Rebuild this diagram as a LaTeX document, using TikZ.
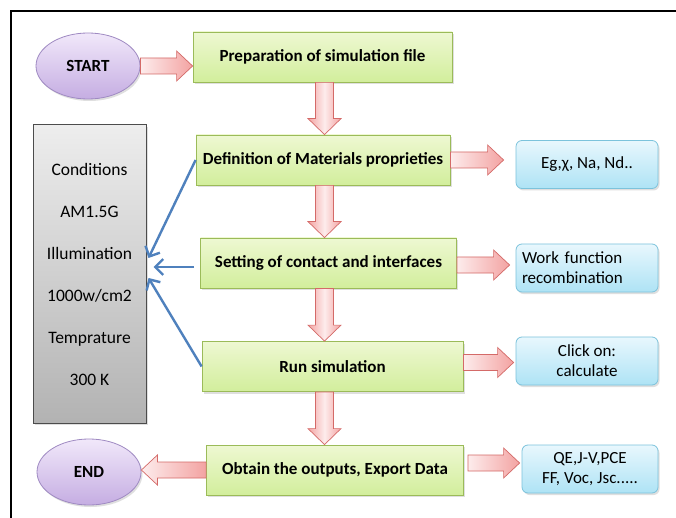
\documentclass[tikz,border=0pt]{standalone}
\usepackage{fontspec}
\setmainfont{Carlito}
\usetikzlibrary{shapes.geometric,calc,arrows.meta,shadows}
\definecolor{gborder}{HTML}{9BBB59}
\definecolor{gtop}{HTML}{EEF8D2}
\definecolor{gbot}{HTML}{D2EE9C}
\definecolor{bborder}{HTML}{7CC3DC}
\definecolor{btop}{HTML}{E8F7FD}
\definecolor{bbot}{HTML}{AEE3F5}
\definecolor{pborder}{HTML}{9F8AC2}
\definecolor{ptop}{HTML}{F1E8FA}
\definecolor{pbot}{HTML}{C5ADE2}
\definecolor{aborder}{HTML}{D46A68}
\definecolor{alight}{HTML}{FDECEC}
\definecolor{adark}{HTML}{F3A3A2}
\definecolor{lineblue}{HTML}{4F81BD}
\begin{document}
\begin{tikzpicture}[x=1pt,y=-1pt,
  greenbox/.style={rectangle,draw=gborder,line width=0.8pt,top color=gtop,bottom color=gbot,
    minimum height=50pt,font=\bfseries\fontsize{17}{19}\selectfont,
    drop shadow={opacity=0.25,shadow xshift=1.5pt,shadow yshift=-2pt}},
  bluebox/.style={rectangle,rounded corners=6pt,draw=bborder,line width=0.8pt,top color=btop,bottom color=bbot,
    minimum width=142pt,minimum height=48pt,font=\fontsize{17}{20}\selectfont,align=center,
    drop shadow={opacity=0.25,shadow xshift=1.5pt,shadow yshift=-2pt}},
  oval/.style={ellipse,draw=pborder,line width=0.8pt,top color=ptop,bottom color=pbot,
    minimum width=104pt,minimum height=66pt,font=\bfseries\fontsize{17}{19}\selectfont,
    drop shadow={opacity=0.25,shadow xshift=1.5pt,shadow yshift=-2pt}},
  condbox/.style={rectangle,draw=black!70,line width=1pt,top color=black!7,bottom color=black!30,
    minimum width=113pt,minimum height=298pt,align=center,font=\fontsize{17.5}{42}\selectfont,
    drop shadow={opacity=0.25,shadow xshift=1.5pt,shadow yshift=-2pt}},
  fatarrowH/.style={draw=aborder,line width=0.7pt,left color=alight,right color=adark},
  fatarrowV/.style={draw=aborder,line width=0.7pt,shading=axis,left color=adark,right color=adark,middle color=alight},
  fatR/.style={to path={let \p1=(\tikztostart),\p2=(\tikztotarget) in
    (\x1,\y1+8pt) -- (\x2-16pt,\y1+8pt) -- (\x2-16pt,\y1+15pt) -- (\x2,\y1)
    -- (\x2-16pt,\y1-15pt) -- (\x2-16pt,\y1-8pt) -- (\x1,\y1-8pt) -- cycle}},
  fatL/.style={to path={let \p1=(\tikztostart),\p2=(\tikztotarget) in
    (\x1,\y1+8pt) -- (\x2+16pt,\y1+8pt) -- (\x2+16pt,\y1+15pt) -- (\x2,\y1)
    -- (\x2+16pt,\y1-15pt) -- (\x2+16pt,\y1-8pt) -- (\x1,\y1-8pt) -- cycle}},
  fatD/.style={to path={let \p1=(\tikztostart),\p2=(\tikztotarget) in
    (\x1+9pt,\y1) -- (\x1+9pt,\y2+16pt) -- (\x1+16.5pt,\y2+16pt) -- (\x1,\y2)
    -- (\x1-16.5pt,\y2+16pt) -- (\x1-9pt,\y2+16pt) -- (\x1-9pt,\y1) -- cycle}},
  bluearrow/.style={draw=lineblue,line width=2.4pt,-{Straight Barb[length=8pt,width=16pt]}}
]
\useasboundingbox (0,0) rectangle (676,518);
\fill[white] (0,0) rectangle (676,518);
\draw[line width=2pt] (11,518) -- (11,11) -- (676,11);

\coordinate (colx) at (324.5,0);

\node[oval] (start) at (88,66) {START};
\node[oval] (end) at (89,472) {END};

\node[greenbox,minimum width=259pt] (prep) at (322.5,57) {Preparation of simulation file};
\node[greenbox,minimum width=254pt] (def) at (323,160) {Definition of Materials proprieties};
\node[greenbox,minimum width=256pt] (set) at (328.5,263) {Setting of contact and interfaces};
\node[greenbox,minimum width=261pt] (run) at (332.5,366.5) {Run simulation};
\node[greenbox,minimum width=257pt] (obt) at (335,470) {Obtain the outputs, Export Data};

\node[bluebox] (eg) at (587,164.5) {Eg,χ, Na, Nd..};
\node[bluebox,align=left,text width=130pt] (wf) at (587,268) {Work function\\recombination};
\node[bluebox] (click) at (587,361) {Click on:\\calculate};
\node[bluebox,minimum width=136pt] (qe) at (590,469) {QE,J-V,PCE\\FF, Voc, Jsc.....};

\node[condbox] (cond) at (89.5,274) {Conditions\\AM1.5G\\Illumination\\1000w/cm2\\Temprature\\300 K};

% fat arrows
\draw[fatarrowH] (start.east) to[fatR] (prep.west |- start.east);
\draw[fatarrowV] (prep.south -| colx) to[fatD] (def.north -| colx);
\draw[fatarrowV] (def.south -| colx) to[fatD] (set.north -| colx);
\draw[fatarrowV] (set.south -| colx) to[fatD] (run.north -| colx);
\draw[fatarrowV] (run.south -| colx) to[fatD] (obt.north -| colx);
\draw[fatarrowH] (def.east) to[fatR] ([xshift=-12pt]eg.west |- def.east);
\draw[fatarrowH] ([yshift=-2pt]set.east) to[fatR] ([xshift=-6pt,yshift=-2pt]wf.west |- set.east);
\draw[fatarrowH] ([yshift=4pt]run.east) to[fatR] ([xshift=-2pt,yshift=4pt]click.west |- run.east);
\draw[fatarrowH] ([xshift=4pt,yshift=7pt]obt.east) to[fatR] ([xshift=-2pt,yshift=7pt]qe.west |- obt.east);
\draw[fatarrowH] (obt.west) to[fatL] (end.east |- obt.west);

% blue arrows
\coordinate (c1) at ([xshift=2pt,yshift=16pt]cond.east);
\coordinate (c2) at ([xshift=7pt,yshift=7pt]cond.east);
\coordinate (c3) at ([xshift=2pt,yshift=-4pt]cond.east);
\draw[bluearrow] (def.west) -- (c1);
\draw[bluearrow] ([xshift=-6pt,yshift=-4pt]set.west) -- (c2);
\draw[bluearrow] (run.west) -- (c3);
\end{tikzpicture}
\end{document}
